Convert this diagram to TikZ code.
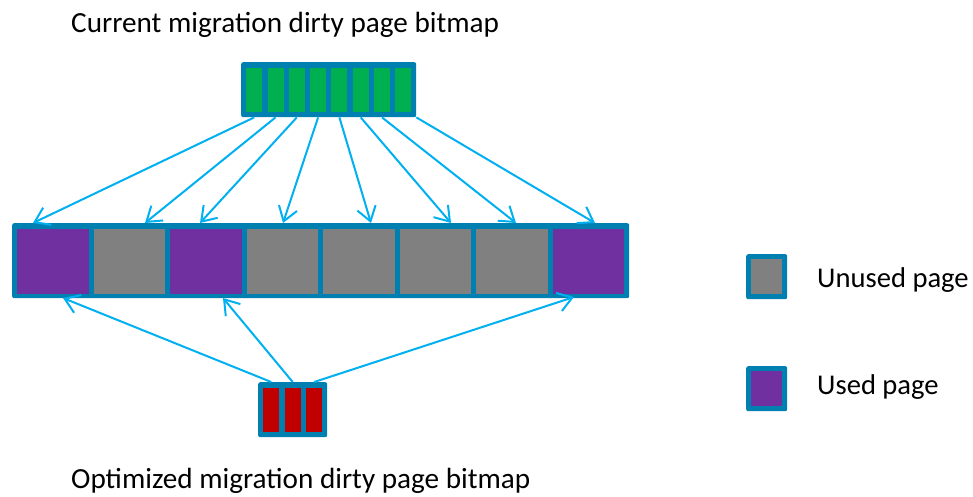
\documentclass[tikz,border=0pt]{standalone}
\usepackage{fontspec}
\setmainfont{Carlito}
\usetikzlibrary{arrows.meta,calc}
\definecolor{bord}{RGB}{0,128,176}
\definecolor{arrowc}{RGB}{0,176,240}
\definecolor{usedc}{RGB}{112,48,160}
\definecolor{unusedc}{RGB}{128,128,128}
\definecolor{greenc}{RGB}{0,176,80}
\definecolor{redc}{RGB}{192,0,0}
\begin{document}
\begin{tikzpicture}[x=1pt,y=-1pt,
  frame/.style={fill=bord,rounded corners=2pt,inner sep=0pt,anchor=north west},
  cell/.style={inner sep=0pt,anchor=north west},
  conn/.style={draw=arrowc,line width=2pt,-{Straight Barb[length=14pt,width=19pt]}},
  lbl/.style={inner sep=0pt,anchor=base west,font=\fontsize{29.2}{34}\selectfont},
  leg/.style={inner sep=0pt,anchor=base west,font=\fontsize{28.6}{33}\selectfont}]
\useasboundingbox (0,0) rectangle (973,496);

% titles
\node[lbl] (title1) at (71,32) {Current migration dirty page bitmap};
\node[lbl] (title2) at (71,488) {Optimized migration dirty page bitmap};

% top bitmap
\node[frame,minimum width=175pt,minimum height=55pt] (top) at (241,62) {};
\foreach \i in {1,...,8}
  \node[cell,fill=greenc,minimum width=16pt,minimum height=44pt] (t\i) at ({246+21.3*(\i-1)},68) {};

% main row
\node[frame,minimum width=617pt,minimum height=75pt] (row) at (12,223) {};
\foreach \i/\c in {1/usedc,2/unusedc,3/usedc,4/unusedc,5/unusedc,6/unusedc,7/unusedc,8/usedc}
  \node[cell,fill=\c,minimum width=71.5pt,minimum height=65pt] (m\i) at ({17+76.5*(\i-1)},229) {};

% bottom bitmap
\node[frame,minimum width=69pt,minimum height=55pt] (bot) at (258,382) {};
\foreach \i in {1,2,3}
  \node[cell,fill=redc,minimum width=16pt,minimum height=44pt] (b\i) at ({263+21.5*(\i-1)},388) {};

% legend
\node[frame,minimum width=41pt,minimum height=45pt] (lg1) at (746,254) {};
\node[cell,fill=unusedc,minimum width=31pt,minimum height=35pt] (lg1c) at (751,259) {};
\node[leg] (lt1) at (817,287) {Unused page};
\node[frame,minimum width=41pt,minimum height=45pt] (lg2) at (746,366) {};
\node[cell,fill=usedc,minimum width=31pt,minimum height=35pt] (lg2c) at (751,371) {};
\node[leg] (lt2) at (817,394) {Used page};

% arrow end points on the page row
\coordinate (e1) at (33,223);
\coordinate (e2) at (145,223);
\coordinate (e3) at (200,223);
\coordinate (e4) at (283,223);
\coordinate (e5) at (371,223);
\coordinate (e6) at (451,223);
\coordinate (e7) at (516,223);
\coordinate (e8) at (595,223);
\coordinate (f1) at (63,298);
\coordinate (f2) at (223,298);
\coordinate (f3) at (574,297);

\foreach \i in {1,...,7}
  \draw[conn] (t\i |- top.south) -- (e\i);
\draw[conn] (top.south east) -- (e8);

\draw[conn] (b1 |- bot.north) -- (f1);
\draw[conn] (b2 |- bot.north) -- (f2);
\draw[conn] (b3 |- bot.north) -- (f3);
\end{tikzpicture}
\end{document}
